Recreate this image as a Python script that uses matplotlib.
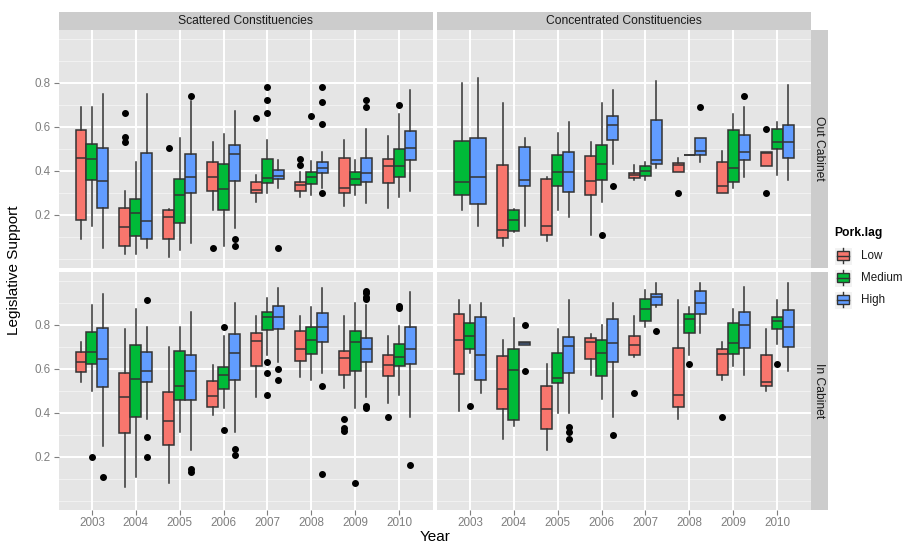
import matplotlib
matplotlib.use("Agg")
import matplotlib.pyplot as plt
from matplotlib.patches import Rectangle

plt.rcParams['font.family'] = ['Liberation Sans', 'DejaVu Sans']

years = [2003, 2004, 2005, 2006, 2007, 2008, 2009, 2010]
levels = ["Low", "Medium", "High"]
level_colors = ["#F8766D", "#00BA38", "#619CFF"]
col_titles = ["Scattered Constituencies", "Concentrated Constituencies"]
row_titles = ["Out Cabinet", "In Cabinet"]
y_breaks = [0.2, 0.4, 0.6, 0.8]

# Five-number summaries per year: (lower whisker, Q1, median, Q3, upper whisker)
scattered_out_low = [(0.089, 0.174, 0.456, 0.585, 0.688), (0.020, 0.059, 0.144, 0.229, 0.308),
                     (0.009, 0.089, 0.191, 0.220, 0.225), (0.220, 0.309, 0.371, 0.439, 0.529),
                     (0.259, 0.300, 0.312, 0.350, 0.379), (0.282, 0.308, 0.335, 0.350, 0.395),
                     (0.241, 0.300, 0.320, 0.459, 0.539), (0.230, 0.344, 0.421, 0.452, 0.558)]
scattered_out_medium = [(0.150, 0.358, 0.452, 0.521, 0.688), (0.020, 0.105, 0.206, 0.270, 0.438),
                        (0.039, 0.164, 0.291, 0.364, 0.547), (0.059, 0.220, 0.315, 0.429, 0.568),
                        (0.300, 0.342, 0.365, 0.452, 0.539), (0.291, 0.339, 0.371, 0.394, 0.445),
                        (0.291, 0.333, 0.362, 0.392, 0.447), (0.282, 0.370, 0.420, 0.500, 0.658)]
scattered_out_high = [(0.050, 0.230, 0.355, 0.502, 0.748), (0.050, 0.089, 0.170, 0.479, 0.748),
                      (0.070, 0.300, 0.371, 0.474, 0.718), (0.139, 0.355, 0.476, 0.517, 0.670),
                      (0.320, 0.364, 0.376, 0.403, 0.447), (0.323, 0.388, 0.412, 0.439, 0.486),
                      (0.252, 0.348, 0.391, 0.459, 0.589), (0.309, 0.450, 0.502, 0.580, 0.768)]

concentrated_out_low = [None, (0.059, 0.094, 0.130, 0.424, 0.709),
                        (0.080, 0.109, 0.150, 0.361, 0.370), (0.109, 0.289, 0.355, 0.465, 0.529),
                        (0.359, 0.367, 0.382, 0.391, 0.427), (0.395, 0.395, 0.427, 0.436, 0.458),
                        (0.297, 0.297, 0.332, 0.441, 0.489), (0.421, 0.421, 0.479, 0.483, 0.483)]
concentrated_out_medium = [(0.220, 0.289, 0.350, 0.535, 0.800), (0.121, 0.127, 0.174, 0.220, 0.225),
                           (0.220, 0.330, 0.395, 0.470, 0.570), (0.259, 0.359, 0.429, 0.515, 0.709),
                           (0.359, 0.377, 0.400, 0.420, 0.438), (0.470, 0.470, 0.470, 0.470, 0.470),
                           (0.320, 0.347, 0.411, 0.585, 0.658), (0.380, 0.498, 0.530, 0.589, 0.620)]
concentrated_out_high = [(0.150, 0.250, 0.371, 0.550, 0.820), (0.150, 0.330, 0.359, 0.509, 0.548),
                         (0.189, 0.305, 0.395, 0.486, 0.620), (0.430, 0.539, 0.609, 0.650, 0.768),
                         (0.411, 0.429, 0.450, 0.630, 0.809), (0.441, 0.470, 0.489, 0.547, 0.547),
                         (0.371, 0.450, 0.483, 0.561, 0.689), (0.359, 0.459, 0.529, 0.609, 0.789)]

scattered_in_low = [(0.541, 0.583, 0.630, 0.674, 0.720), (0.061, 0.309, 0.470, 0.579, 0.779),
                    (0.079, 0.255, 0.361, 0.494, 0.698), (0.389, 0.424, 0.474, 0.542, 0.618),
                    (0.470, 0.611, 0.724, 0.762, 0.838), (0.561, 0.635, 0.689, 0.770, 0.838),
                    (0.511, 0.570, 0.650, 0.679, 0.838), (0.442, 0.567, 0.617, 0.662, 0.748)]
scattered_in_medium = [(0.500, 0.620, 0.674, 0.764, 0.888), (0.109, 0.379, 0.552, 0.709, 0.870),
                       (0.311, 0.459, 0.520, 0.679, 0.788), (0.420, 0.505, 0.571, 0.606, 0.748),
                       (0.661, 0.777, 0.832, 0.859, 0.920), (0.550, 0.667, 0.730, 0.789, 0.879),
                       (0.420, 0.589, 0.720, 0.770, 0.898), (0.480, 0.611, 0.652, 0.712, 0.794)]
scattered_in_high = [(0.250, 0.517, 0.644, 0.785, 0.938), (0.370, 0.539, 0.591, 0.674, 0.788),
                     (0.230, 0.456, 0.589, 0.661, 0.858), (0.311, 0.550, 0.670, 0.759, 0.898),
                     (0.632, 0.779, 0.832, 0.882, 0.968), (0.579, 0.721, 0.789, 0.852, 0.968),
                     (0.470, 0.629, 0.689, 0.741, 0.889), (0.379, 0.620, 0.688, 0.789, 0.948)]

concentrated_in_low = [(0.409, 0.574, 0.729, 0.850, 0.911), (0.280, 0.415, 0.509, 0.655, 0.729),
                       (0.230, 0.324, 0.418, 0.520, 0.620), (0.570, 0.642, 0.721, 0.741, 0.759),
                       (0.652, 0.662, 0.705, 0.747, 0.838), (0.370, 0.424, 0.480, 0.695, 0.911),
                       (0.548, 0.571, 0.665, 0.688, 0.720), (0.500, 0.520, 0.538, 0.661, 0.779)]
concentrated_in_medium = [(0.670, 0.688, 0.750, 0.809, 0.888), (0.341, 0.365, 0.594, 0.689, 0.829),
                          (0.400, 0.533, 0.558, 0.673, 0.780), (0.461, 0.564, 0.673, 0.732, 0.798),
                          (0.791, 0.814, 0.870, 0.917, 0.959), (0.661, 0.761, 0.824, 0.847, 0.879),
                          (0.611, 0.668, 0.714, 0.805, 0.870), (0.711, 0.779, 0.815, 0.836, 0.911)]
concentrated_in_high = [(0.491, 0.550, 0.661, 0.835, 0.898), (0.709, 0.709, 0.715, 0.720, 0.720),
                        (0.400, 0.579, 0.702, 0.745, 0.911), (0.379, 0.629, 0.714, 0.824, 0.898),
                        (0.879, 0.888, 0.924, 0.939, 0.988), (0.761, 0.850, 0.900, 0.952, 0.988),
                        (0.570, 0.692, 0.798, 0.859, 0.970), (0.589, 0.700, 0.791, 0.865, 0.988)]

# Outlying observations per year
scattered_out_low_fliers = [[], [0.661, 0.552, 0.529], [0.502], [0.048], [0.639], [0.453, 0.426], [], []]
scattered_out_medium_fliers = [[], [], [], [], [0.780, 0.720, 0.661], [0.650], [], [0.700]]
scattered_out_high_fliers = [[], [], [0.741], [0.089, 0.059], [0.048], [0.780, 0.711, 0.611, 0.300],
                             [0.720, 0.689], []]
concentrated_out_low_fliers = [[], [], [], [], [], [0.298], [], [0.589, 0.300]]
concentrated_out_medium_fliers = [[], [], [], [0.109], [], [], [], []]
concentrated_out_high_fliers = [[], [], [], [0.330], [], [0.689], [0.741], []]
scattered_in_low_fliers = [[], [], [], [], [], [], [0.370, 0.329, 0.318], [0.379]]
scattered_in_medium_fliers = [[0.200], [], [], [0.791, 0.320], [0.630, 0.582, 0.480], [], [0.079],
                              [0.885, 0.874]]
scattered_in_high_fliers = [[0.109], [0.911, 0.289, 0.200], [0.144, 0.129], [0.233, 0.208],
                            [0.600, 0.550], [0.520, 0.120],
                            [0.953, 0.942, 0.927, 0.915, 0.430, 0.420], [0.161]]
concentrated_in_low_fliers = [[], [], [], [], [0.489], [], [0.379], []]
concentrated_in_medium_fliers = [[0.430], [], [], [], [], [0.620], [], [0.620]]
concentrated_in_high_fliers = [[], [0.800, 0.589], [0.333, 0.311, 0.280], [0.300], [0.770], [], [], []]

panels = {
    (0, 0): ([scattered_out_low, scattered_out_medium, scattered_out_high],
             [scattered_out_low_fliers, scattered_out_medium_fliers, scattered_out_high_fliers]),
    (0, 1): ([concentrated_out_low, concentrated_out_medium, concentrated_out_high],
             [concentrated_out_low_fliers, concentrated_out_medium_fliers, concentrated_out_high_fliers]),
    (1, 0): ([scattered_in_low, scattered_in_medium, scattered_in_high],
             [scattered_in_low_fliers, scattered_in_medium_fliers, scattered_in_high_fliers]),
    (1, 1): ([concentrated_in_low, concentrated_in_medium, concentrated_in_high],
             [concentrated_in_low_fliers, concentrated_in_medium_fliers, concentrated_in_high_fliers]),
}

W, H = 905, 543
fig = plt.figure(figsize=(W / 100, H / 100), dpi=100)
fig.patch.set_facecolor("white")


def pix_axes(x0, y0, x1, y1):
    return fig.add_axes([x0 / W, 1 - y1 / H, (x1 - x0) / W, (y1 - y0) / H])


col_px = [(58.5, 432.5), (436.5, 810.5)]
row_px = [(30.0, 267.7), (271.7, 509.7)]
line_col = "#333333"
axis_grey = "#7F7F7F"
minor_breaks = [0.0, 0.1, 0.3, 0.5, 0.7, 0.9, 1.0]

for (r, c), (series, fliers) in panels.items():
    x0, x1 = col_px[c]
    y0, y1 = row_px[r]
    ax = pix_axes(x0, y0, x1, y1)
    ax.set_facecolor("#E5E5E5")
    for s in ax.spines.values():
        s.set_visible(False)
    ax.set_xlim(0.2375, 8.7625)
    ax.set_ylim(-0.041, 1.040)

    for v in minor_breaks:
        ax.axhline(v, color="#F2F2F2", lw=0.7, zorder=0.5)
    for v in y_breaks:
        ax.axhline(v, color="white", lw=1.4, zorder=0.6)
    for i in range(len(years)):
        ax.axvline(i + 1, color="white", lw=1.4, zorder=0.6)

    for i in range(len(years)):
        present = [k for k in range(len(levels)) if series[k][i] is not None]
        n = len(present)
        w = 0.75 / n
        for j, k in enumerate(present):
            lo, q1, med, q3, hi = series[k][i]
            pos = i + 1 + (j - (n - 1) / 2) * w
            st = dict(whislo=lo, q1=q1, med=med, q3=q3, whishi=hi, fliers=fliers[k][i])
            out = ax.bxp([st], positions=[pos], widths=[w], patch_artist=True,
                         showcaps=False, manage_ticks=False,
                         boxprops=dict(facecolor=level_colors[k], edgecolor=line_col, lw=1.1),
                         whiskerprops=dict(color=line_col, lw=1.1),
                         medianprops=dict(color=line_col, lw=1.1),
                         flierprops=dict(marker="o", markerfacecolor="black",
                                         markeredgecolor="black", markersize=4, lw=0))
            for b in out["boxes"]:
                b.set_zorder(2)

    if r == 1:
        ax.set_xticks(range(1, len(years) + 1))
        ax.set_xticklabels([str(y) for y in years])
        ax.tick_params(axis="x", length=3.5, width=0.8, color=axis_grey,
                       labelcolor=axis_grey, labelsize=8.4, pad=2)
    else:
        ax.set_xticks([])
    if c == 0:
        ax.set_yticks(y_breaks)
        ax.set_yticklabels(["%.1f" % v for v in y_breaks])
        ax.tick_params(axis="y", length=3.5, width=0.8, color=axis_grey,
                       labelcolor=axis_grey, labelsize=8.4, pad=2)
    else:
        ax.set_yticks([])

# facet strips
for c, (x0, x1) in enumerate(col_px):
    sax = pix_axes(x0, 11.7, x1, 30.0)
    sax.set_facecolor("#CCCCCC")
    sax.set_xticks([]); sax.set_yticks([])
    for s in sax.spines.values():
        s.set_visible(False)
    sax.text(0.5, 0.5, col_titles[c], ha="center", va="center", fontsize=8.7,
             color="#1A1A1A", transform=sax.transAxes)
for r, (y0, y1) in enumerate(row_px):
    sax = pix_axes(810.5, y0, 828.3, y1)
    sax.set_facecolor("#CCCCCC")
    sax.set_xticks([]); sax.set_yticks([])
    for s in sax.spines.values():
        s.set_visible(False)
    sax.text(0.5, 0.5, row_titles[r], ha="center", va="center", fontsize=8.7,
             color="#1A1A1A", rotation=-90, transform=sax.transAxes)

# axis titles
fig.text(435 / W, 1 - 537 / H, "Year", ha="center", va="center", fontsize=11)
fig.text(14 / W, 1 - 270 / H, "Legislative Support", ha="center", va="center",
         fontsize=11, rotation=90)

# legend
lax = pix_axes(828.5, 215, 905, 315)
lax.set_xlim(828.5, 905)
lax.set_ylim(315, 215)
lax.axis("off")
lax.add_patch(Rectangle((828.5, 215), 76.5, 100, facecolor="white", edgecolor="none"))
lax.text(834, 233, "Pork.lag", fontsize=8.7, fontweight="bold", ha="left", va="center")
for k, lev in enumerate(levels):
    cy = 255.5 + 22 * k
    lax.add_patch(Rectangle((834, cy - 9), 17.5, 18, facecolor="#F2F2F2", edgecolor="white", lw=0.8))
    lax.plot([842.75, 842.75], [cy - 7.5, cy + 7.5], color=line_col, lw=1.0)
    lax.add_patch(Rectangle((837, cy - 4.5), 11.5, 9, facecolor=level_colors[k],
                            edgecolor=line_col, lw=1.0, zorder=3))
    lax.plot([837, 848.5], [cy, cy], color=line_col, lw=1.0, zorder=4)
    lax.text(861, cy, lev, fontsize=8.4, ha="left", va="center", color="#1A1A1A")

fig.savefig("out.png", dpi=100)
